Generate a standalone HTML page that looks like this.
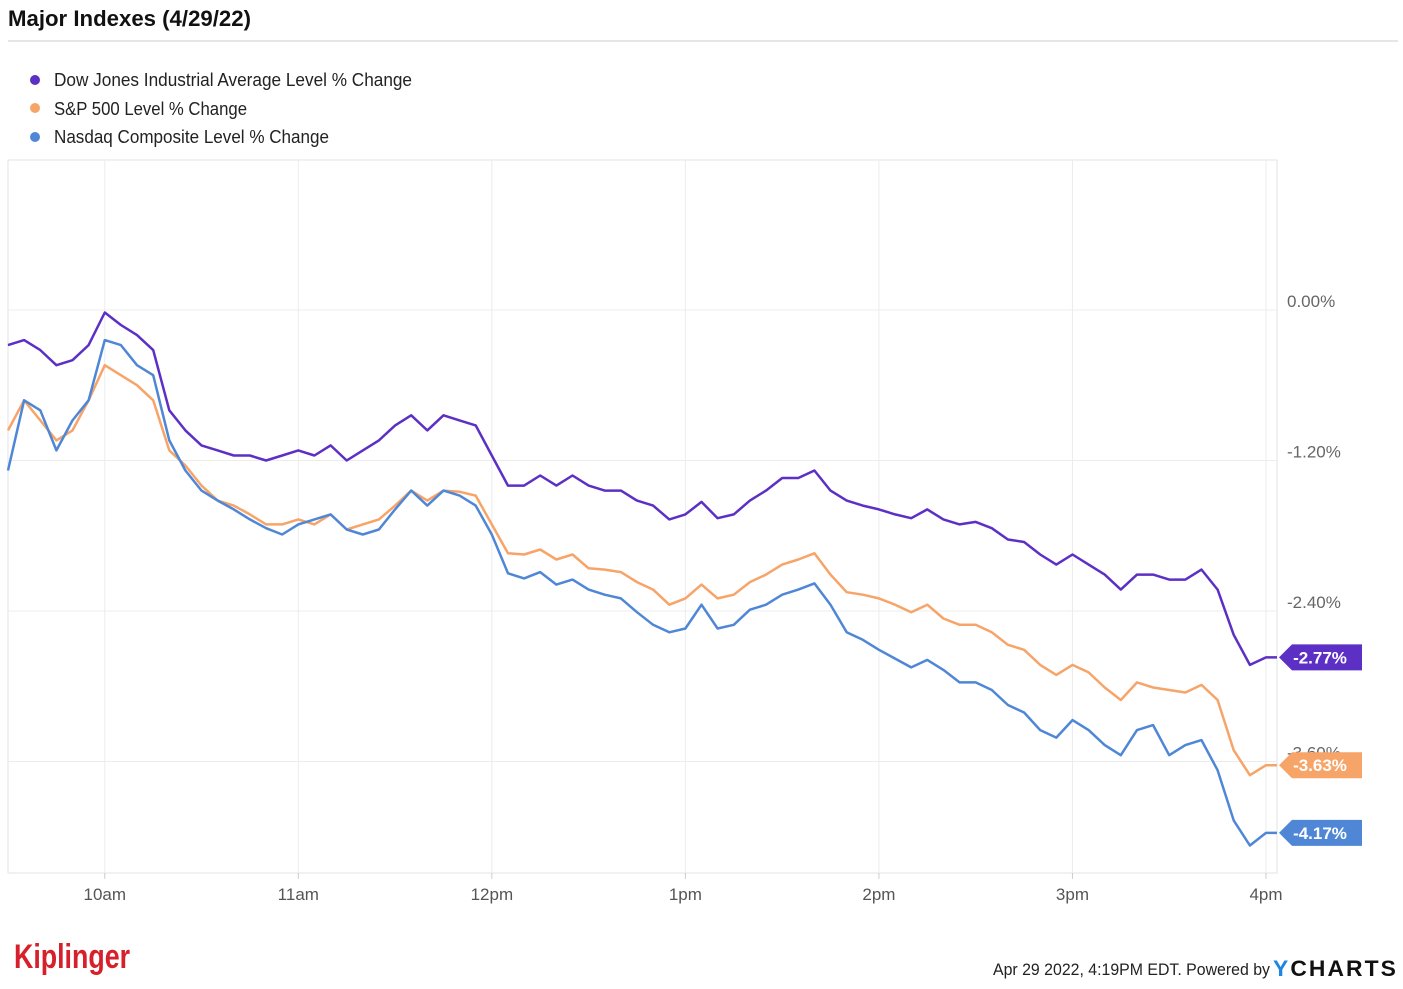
<!DOCTYPE html>
<html><head><meta charset="utf-8"><style>
body{margin:0;background:#fff;font-family:"Liberation Sans",sans-serif;}
svg text{font-family:"Liberation Sans",sans-serif;}
</style></head><body>
<svg id="chart" width="1403" height="984" xmlns="http://www.w3.org/2000/svg">
<text x="8" y="26" font-size="22" font-weight="bold" fill="#111" textLength="243" lengthAdjust="spacingAndGlyphs">Major Indexes (4/29/22)</text>
<line x1="8" y1="41" x2="1398" y2="41" stroke="#ddd" stroke-width="1.5"/>
<g>
<g><circle cx="35" cy="80" r="5" fill="#5c2fc5"/><text x="54" y="86" font-size="18" fill="#222" textLength="358" lengthAdjust="spacingAndGlyphs">Dow Jones Industrial Average Level % Change</text></g>
<g><circle cx="35" cy="108" r="5" fill="#f7a468"/><text x="54" y="115" font-size="18" fill="#222" textLength="193" lengthAdjust="spacingAndGlyphs">S&amp;P 500 Level % Change</text></g>
<g><circle cx="35" cy="137" r="5" fill="#4f87d6"/><text x="54" y="143" font-size="18" fill="#222" textLength="275" lengthAdjust="spacingAndGlyphs">Nasdaq Composite Level % Change</text></g>
</g>
<rect x="8" y="160" width="1269" height="713" fill="none" stroke="#e3e3e3"/>
<g id="grid"></g><g id="series"></g><g id="tags"></g>
<text x="14" y="968" font-size="34" font-weight="bold" fill="#d6202b" textLength="116" lengthAdjust="spacingAndGlyphs">Kiplinger</text>
<text x="993" y="975" font-size="17" fill="#222" textLength="277" lengthAdjust="spacingAndGlyphs">Apr 29 2022, 4:19PM EDT. Powered by</text>
<text x="1273" y="976" font-size="22" font-weight="bold" fill="#111" letter-spacing="2" textLength="125" lengthAdjust="spacingAndGlyphs"><tspan fill="#1f86e0">Y</tspan>CHARTS</text>
</svg>
<script>
const times=["10am","11am","12pm","1pm","2pm","3pm","4pm"];
const timeMinutes=[30,90,150,210,270,330,390];
const yTicks=[0,-1.2,-2.4,-3.6];
const yTickLabels=["0.00%","-1.20%","-2.40%","-3.60%"];
const stepMinutes=5;
const dow=[-0.28,-0.24,-0.32,-0.44,-0.40,-0.28,-0.02,-0.12,-0.20,-0.32,-0.80,-0.96,-1.08,-1.12,-1.16,-1.16,-1.20,-1.16,-1.12,-1.16,-1.08,-1.20,-1.12,-1.04,-0.92,-0.84,-0.96,-0.84,-0.88,-0.92,-1.16,-1.40,-1.40,-1.32,-1.40,-1.32,-1.40,-1.44,-1.44,-1.52,-1.56,-1.67,-1.63,-1.53,-1.66,-1.63,-1.52,-1.44,-1.34,-1.34,-1.28,-1.44,-1.52,-1.56,-1.59,-1.63,-1.66,-1.59,-1.67,-1.71,-1.69,-1.74,-1.83,-1.85,-1.95,-2.03,-1.95,-2.03,-2.11,-2.23,-2.11,-2.11,-2.15,-2.15,-2.07,-2.23,-2.59,-2.83,-2.77];
const sp500=[-0.96,-0.72,-0.88,-1.04,-0.96,-0.72,-0.44,-0.52,-0.60,-0.72,-1.12,-1.24,-1.40,-1.52,-1.56,-1.63,-1.71,-1.71,-1.67,-1.71,-1.63,-1.75,-1.71,-1.67,-1.56,-1.44,-1.52,-1.44,-1.45,-1.48,-1.71,-1.94,-1.95,-1.91,-1.99,-1.95,-2.06,-2.07,-2.09,-2.17,-2.23,-2.35,-2.30,-2.19,-2.30,-2.27,-2.17,-2.11,-2.03,-1.99,-1.94,-2.11,-2.25,-2.27,-2.30,-2.35,-2.41,-2.35,-2.46,-2.51,-2.51,-2.57,-2.67,-2.71,-2.83,-2.91,-2.83,-2.89,-3.01,-3.11,-2.97,-3.01,-3.03,-3.05,-2.99,-3.11,-3.51,-3.71,-3.63];
const nasdaq=[-1.28,-0.72,-0.80,-1.12,-0.88,-0.72,-0.24,-0.28,-0.44,-0.52,-1.04,-1.28,-1.44,-1.52,-1.59,-1.67,-1.74,-1.79,-1.71,-1.67,-1.63,-1.75,-1.79,-1.75,-1.59,-1.44,-1.56,-1.44,-1.48,-1.56,-1.79,-2.10,-2.14,-2.09,-2.19,-2.15,-2.23,-2.27,-2.30,-2.41,-2.51,-2.57,-2.54,-2.35,-2.54,-2.51,-2.39,-2.35,-2.27,-2.23,-2.18,-2.35,-2.57,-2.63,-2.71,-2.78,-2.85,-2.79,-2.87,-2.97,-2.97,-3.03,-3.15,-3.21,-3.35,-3.41,-3.27,-3.35,-3.47,-3.55,-3.35,-3.31,-3.55,-3.47,-3.43,-3.67,-4.07,-4.27,-4.17];
const NS="http://www.w3.org/2000/svg";
const xScale=m=>8+m*(1258/390);
const yScale=v=>310-v*125.4;
function mk(tag,attrs,parent){const e=document.createElementNS(NS,tag);for(const k in attrs)e.setAttribute(k,attrs[k]);parent.appendChild(e);return e;}
const grid=document.getElementById('grid');
yTicks.forEach((t,i)=>{
 const l=mk('line',{x1:8,x2:1277,y1:yScale(t),y2:yScale(t),stroke:'#ececec'},grid);
 
 
 const tx=mk('text',{x:1287,y:yScale(t)-3,'font-size':17,fill:'#666'},grid);
 tx.textContent=yTickLabels[i];
 
 
});
times.forEach((t,i)=>{
 const x=xScale(timeMinutes[i]);
 const l=mk('line',{x1:x,x2:x,y1:160,y2:873,stroke:'#ececec'},grid);
 
 
 const tk=mk('line',{x1:x,x2:x,y1:873,y2:879,stroke:'#ccc'},grid);
 
 
 const tx=mk('text',{x:x,y:900,'font-size':17,fill:'#555','text-anchor':'middle'},grid);
 tx.textContent=t;
 
 
});
const sg=document.getElementById('series'),tg=document.getElementById('tags');
[[dow,'#5c2fc5','dow-line'],[sp500,'#f7a468','sp500-line'],[nasdaq,'#4f87d6','nasdaq-line']].forEach(([d,c,n])=>{
 let p=d.map((v,i)=>(i?'L':'M')+xScale(i*stepMinutes).toFixed(1)+','+yScale(v).toFixed(1)).join(' ');
 const last=d[d.length-1];
 p+=' L1277,'+yScale(last).toFixed(1);
 const path=mk('path',{d:p,fill:'none',stroke:c,'stroke-width':2.5,'stroke-linejoin':'round'},sg);
 
 
 const y=yScale(last);
 const g=mk('g',{},tg);
 
 
 mk('path',{d:`M1279,${y} L1292,${y-13} L1362,${y-13} L1362,${y+13} L1292,${y+13} Z`,fill:c},g);
 const t=mk('text',{x:1320,y:y+6,'font-size':17,'font-weight':'bold',fill:'#fff','text-anchor':'middle'},g);
 t.textContent=last.toFixed(2)+'%';
});
</script>
</body></html>
